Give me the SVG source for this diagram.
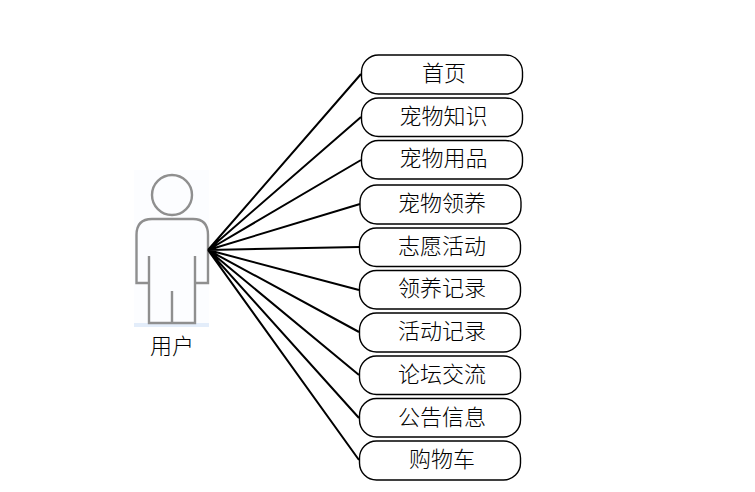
<svg xmlns="http://www.w3.org/2000/svg" width="755" height="492" viewBox="0 0 755 492">
<style>
.box{fill:#fff;stroke:#000;stroke-width:1.4}
.lbl{font-family:"Noto Sans CJK SC","Liberation Serif",serif;font-size:22px;font-weight:300;text-anchor:middle;fill:#000}
.con{stroke:#000;stroke-width:2;fill:none}
.fig{fill:none;stroke:#8f8f8f;stroke-width:2.4}
</style>
<rect width="755" height="492" fill="#fff"/>
<g id="user">
<rect x="134" y="170" width="75" height="155" fill="#fcfdff"/>
<rect x="134" y="323" width="75" height="4" fill="#e3edfa"/>
<circle class="fig" cx="172" cy="195" r="20"/>
<path class="fig" d="M149 283H136.500V235Q136.500 219 152 219H193Q208 219 208 235V283H195M149 256V323H195V256M172 291V323"/>
<text class="lbl" x="172" y="354">用户</text>
</g>
<g id="connectors">
<path class="con" d="M208 250L361 74M208 250L361 117M208 250L361 160M208 250L360 204M208 250L359 247M208 250L359 290M208 250L359 332M208 250L359 375M208 250L359 418M208 250L359 460"/>
</g>
<g id="n1"><rect class="box" x="361.500" y="55" width="161" height="39" rx="17"/><text class="lbl" x="444" y="81">首页</text></g>
<g id="n2"><rect class="box" x="361.500" y="98" width="161" height="38.500" rx="17"/><text class="lbl" x="443.500" y="124">宠物知识</text></g>
<g id="n3"><rect class="box" x="361.500" y="140.500" width="161" height="38.500" rx="17"/><text class="lbl" x="443.500" y="166">宠物用品</text></g>
<g id="n4"><rect class="box" x="360" y="185" width="161" height="39" rx="17"/><text class="lbl" x="442" y="211">宠物领养</text></g>
<g id="n5"><rect class="box" x="359.500" y="228" width="161" height="38.500" rx="17"/><text class="lbl" x="442" y="254">志愿活动</text></g>
<g id="n6"><rect class="box" x="359.500" y="270.500" width="161" height="38.500" rx="17"/><text class="lbl" x="442" y="296">领养记录</text></g>
<g id="n7"><rect class="box" x="359.500" y="313" width="161" height="39" rx="17"/><text class="lbl" x="442" y="339">活动记录</text></g>
<g id="n8"><rect class="box" x="359.500" y="356" width="161" height="38.500" rx="17"/><text class="lbl" x="442" y="382">论坛交流</text></g>
<g id="n9"><rect class="box" x="359.500" y="398.500" width="161" height="38.500" rx="17"/><text class="lbl" x="442" y="425">公告信息</text></g>
<g id="n10"><rect class="box" x="359.500" y="441" width="161" height="39" rx="17"/><text class="lbl" x="442" y="467">购物车</text></g>
</svg>
